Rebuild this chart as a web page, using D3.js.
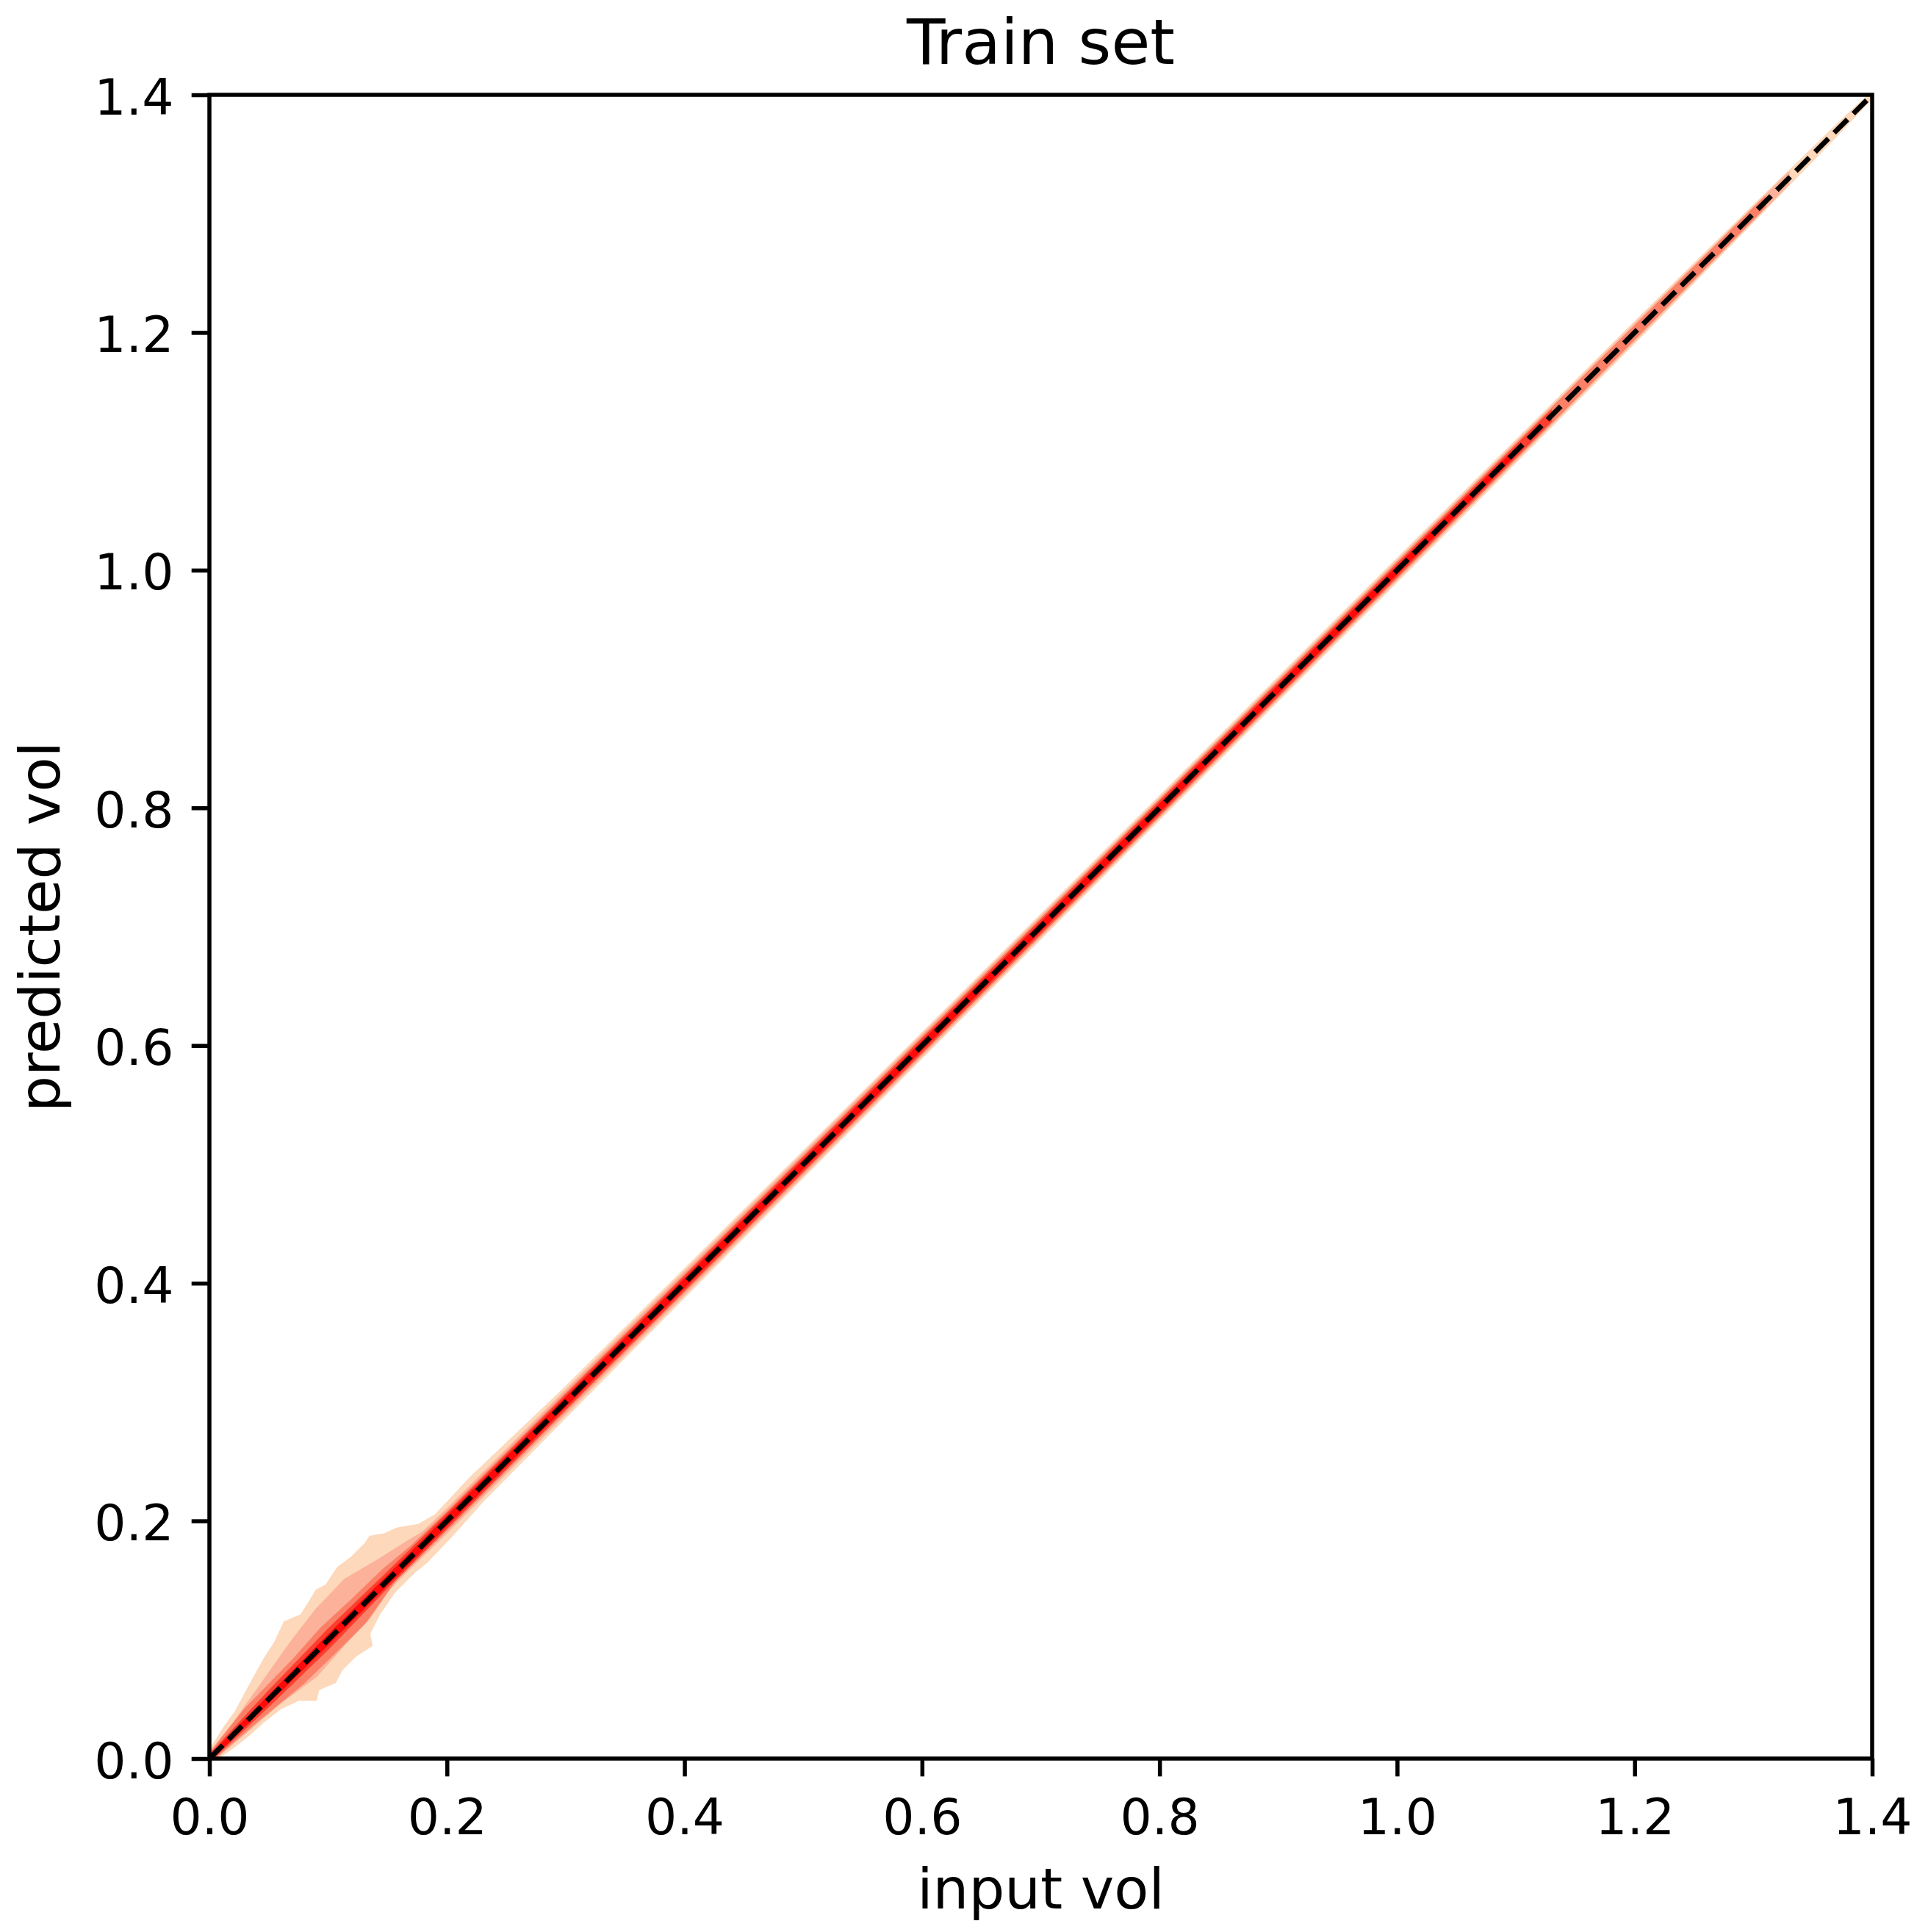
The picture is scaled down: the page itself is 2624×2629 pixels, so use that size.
<!DOCTYPE html>
<html>
<head>
<meta charset="utf-8">
<script src="https://cdn.jsdelivr.net/npm/d3@7"></script>
<style>
  html, body { margin: 0; padding: 0; background: #ffffff; }
  svg { display: block; }
  text { font-family: "DejaVu Sans", sans-serif; fill: #000; }
</style>
</head>
<body>
<svg id="chart" width="2624" height="2629"></svg>
<script>
// ---------------- data ----------------
const titleText = "Train set";
const xLabelText = "input vol";
const yLabelText = "predicted vol";
const xDomain = [0, 1.4];
const yDomain = [0, 1.4];
const tickValues = [0.0, 0.2, 0.4, 0.6, 0.8, 1.0, 1.2, 1.4];
const tickLabels = ["0.0", "0.2", "0.4", "0.6", "0.8", "1.0", "1.2", "1.4"];

// identity reference line
const refLine = [[0, 0], [1.4, 1.4]];

// 2-D density of (input vol, predicted vol): outline of each count level,
// upper edge and lower edge as [input, predicted] pairs
const level1Upper = [[0,0.007],[0.012,0.026],[0.022,0.040],[0.036,0.066],[0.046,0.084],[0.055,0.098],[0.063,0.115],[0.077,0.121],[0.084,0.132],[0.090,0.142],[0.098,0.146],[0.108,0.161],[0.119,0.169],[0.131,0.181],[0.135,0.187],[0.147,0.189],[0.158,0.194],[0.176,0.197],[0.19,0.205],[0.22,0.237],[0.3,0.313],[0.5,0.511],[0.8,0.810],[1.0,1.010],[1.2,1.209],[1.3,1.307],[1.37,1.375],[1.4,1.403]];
const level1Lower = [[0.007,0],[0.02,0.009],[0.035,0.021],[0.046,0.031],[0.060,0.042],[0.075,0.049],[0.090,0.049],[0.092,0.058],[0.106,0.064],[0.112,0.075],[0.123,0.086],[0.137,0.095],[0.135,0.105],[0.143,0.121],[0.156,0.140],[0.172,0.156],[0.183,0.165],[0.205,0.188],[0.23,0.216],[0.3,0.287],[0.5,0.489],[0.8,0.790],[1.0,0.990],[1.2,1.191],[1.3,1.293],[1.37,1.365],[1.4,1.397]];

const level2Upper = [[0,0.005],[0.02,0.030],[0.04,0.058],[0.069,0.099],[0.090,0.126],[0.114,0.151],[0.143,0.168],[0.162,0.180],[0.18,0.191],[0.2,0.210],[0.3,0.310],[0.8,0.808],[1.0,1.008],[1.2,1.207],[1.33,1.335]];
const level2Lower = [[0.005,0],[0.03,0.021],[0.059,0.046],[0.090,0.069],[0.114,0.096],[0.135,0.118],[0.152,0.143],[0.17,0.161],[0.2,0.190],[0.3,0.290],[0.8,0.792],[1.0,0.992],[1.2,1.193],[1.33,1.325]];

const level3Upper = [[0,0.004],[0.03,0.042],[0.069,0.082],[0.094,0.110],[0.121,0.135],[0.147,0.160],[0.17,0.179],[0.2,0.2075],[0.5,0.507],[1.0,1.0065],[1.15,1.156],[1.31,1.3145]];
const level3Lower = [[0.004,0],[0.04,0.031],[0.079,0.063],[0.106,0.089],[0.131,0.114],[0.156,0.149],[0.2,0.1925],[0.5,0.493],[1.0,0.9935],[1.15,1.144],[1.31,1.3055]];

const level4Upper = [[0,0.003],[0.05,0.057],[0.1,0.109],[0.15,0.157],[0.2,0.206],[0.6,0.6055],[1.0,1.005],[1.13,1.1345]];
const level4Lower = [[0.003,0],[0.05,0.044],[0.1,0.092],[0.15,0.144],[0.2,0.194],[0.6,0.5945],[1.0,0.995],[1.13,1.1255]];

const level5Upper = [[0,0.002],[0.1,0.104],[0.4,0.4035],[1.0,1.003],[1.1,1.1025]];
const level5Lower = [[0.002,0],[0.1,0.096],[0.4,0.3965],[1.0,0.997],[1.1,1.0975]];

const levelUppers = [level1Upper, level2Upper, level3Upper, level4Upper, level5Upper];
const levelLowers = [level1Lower, level2Lower, level3Lower, level4Lower, level5Lower];
const levelColors = ["#fdd8bb", "#fcb29a", "#fb8068", "#fc3f30", "#ff0a0a"];

// ---------------- layout ----------------
const svg = d3.select("#chart");
const plot = { left: 285, right: 2548, top: 129, bottom: 2393 };
const x = d3.scaleLinear().domain(xDomain).range([plot.left, plot.right]);
const y = d3.scaleLinear().domain(yDomain).range([plot.bottom, plot.top]);

svg.append("rect").attr("width", 2624).attr("height", 2629).attr("fill", "#fff");

svg.append("clipPath").attr("id", "plotclip")
  .append("rect")
  .attr("x", plot.left).attr("y", plot.top)
  .attr("width", plot.right - plot.left).attr("height", plot.bottom - plot.top);

const g = svg.append("g").attr("clip-path", "url(#plotclip)");

const line = d3.line().x(d => x(d[0])).y(d => y(d[1]));

levelUppers.forEach((up, i) => {
  const poly = up.concat(levelLowers[i].slice().reverse());
  g.append("path")
    .attr("d", line(poly) + "Z")
    .attr("fill", levelColors[i])
    .attr("stroke", levelColors[i])
    .attr("stroke-width", 1.5)
    .attr("stroke-linejoin", "round");
});

// dashed identity line
g.append("path")
  .attr("d", line(refLine))
  .attr("fill", "none")
  .attr("stroke", "#000")
  .attr("stroke-width", 6.9)
  .attr("stroke-dasharray", "25.7,11.1");

// ---------------- axes ----------------
const tickLen = 24.3, tickW = 5.5, fontTick = 68;

const xAxis = d3.axisBottom(x).tickValues(tickValues)
  .tickFormat((d, i) => tickLabels[i]).tickSizeInner(tickLen).tickSizeOuter(0).tickPadding(0);
const yAxis = d3.axisLeft(y).tickValues(tickValues)
  .tickFormat((d, i) => tickLabels[i]).tickSizeInner(tickLen).tickSizeOuter(0).tickPadding(0);

const gx = svg.append("g").attr("transform", `translate(0,${plot.bottom})`).call(xAxis);
const gy = svg.append("g").attr("transform", `translate(${plot.left},0)`).call(yAxis);

[gx, gy].forEach(ax => {
  ax.select(".domain").remove();
  ax.selectAll(".tick line").attr("stroke", "#000").attr("stroke-width", tickW);
  ax.selectAll(".tick text")
    .attr("font-family", "DejaVu Sans")
    .attr("font-size", fontTick)
    .attr("fill", "#000");
});
gx.selectAll(".tick text").attr("y", 103).attr("dy", null).attr("text-anchor", "middle");
gy.selectAll(".tick text").attr("x", -48.6).attr("dy", 26).attr("text-anchor", "end");

// spines
svg.append("rect")
  .attr("x", plot.left).attr("y", plot.top)
  .attr("width", plot.right - plot.left).attr("height", plot.bottom - plot.top)
  .attr("fill", "none").attr("stroke", "#000").attr("stroke-width", 5.5)
  .attr("stroke-linejoin", "miter");

// labels
svg.append("text")
  .attr("x", (plot.left + plot.right) / 2).attr("y", 2597)
  .attr("text-anchor", "middle").attr("font-size", 77)
  .text(xLabelText);

svg.append("text")
  .attr("transform", `translate(81,${(plot.top + plot.bottom) / 2}) rotate(-90)`)
  .attr("text-anchor", "middle").attr("font-size", 77)
  .text(yLabelText);

svg.append("text")
  .attr("x", (plot.left + plot.right) / 2).attr("y", 87)
  .attr("text-anchor", "middle").attr("font-size", 86)
  .text(titleText);
</script>
</body>
</html>
